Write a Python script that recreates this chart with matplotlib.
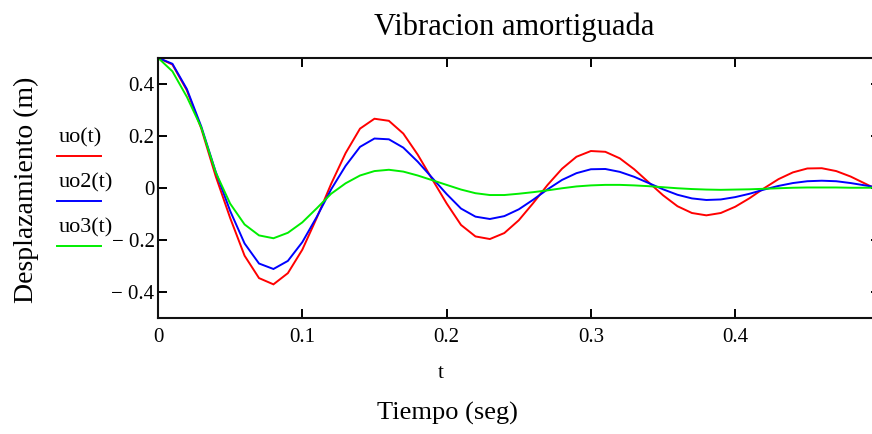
import numpy as np
import matplotlib
matplotlib.use("Agg")
import matplotlib.pyplot as plt
from matplotlib.lines import Line2D

# tiempo de muestreo (seg)
t = np.linspace(0, 0.5, 51)

# desplazamientos (m)
uo = [0.500, 0.474, 0.375, 0.228, 0.045, -0.115, -0.260, -0.346, -0.370, -0.327,
      -0.237, -0.115, 0.016, 0.134, 0.228, 0.266, 0.258, 0.209, 0.128, 0.034,
      -0.059, -0.142, -0.186, -0.196, -0.173, -0.124, -0.058, 0.012, 0.074, 0.120,
      0.142, 0.139, 0.114, 0.072, 0.022, -0.028, -0.070, -0.096, -0.105, -0.096,
      -0.072, -0.039, -0.001, 0.034, 0.060, 0.075, 0.076, 0.065, 0.044, 0.017,
      -0.010]
uo2 = [0.500, 0.477, 0.380, 0.236, 0.062, -0.088, -0.213, -0.290, -0.311, -0.280,
       -0.208, -0.111, -0.005, 0.085, 0.158, 0.190, 0.187, 0.155, 0.101, 0.039,
       -0.023, -0.079, -0.110, -0.119, -0.108, -0.082, -0.045, -0.005, 0.031, 0.057,
       0.072, 0.073, 0.062, 0.043, 0.019, -0.005, -0.026, -0.040, -0.046, -0.044,
       -0.035, -0.022, -0.006, 0.008, 0.019, 0.026, 0.028, 0.026, 0.019, 0.010,
       0.001]
uo3 = [0.500, 0.448, 0.350, 0.232, 0.060, -0.060, -0.140, -0.182, -0.193, -0.172,
       -0.132, -0.078, -0.022, 0.018, 0.048, 0.065, 0.070, 0.063, 0.048, 0.030,
       0.012, -0.006, -0.020, -0.027, -0.027, -0.022, -0.016, -0.009, -0.001, 0.006,
       0.010, 0.012, 0.012, 0.010, 0.007, 0.003, -0.001, -0.004, -0.006, -0.007,
       -0.006, -0.005, -0.003, -0.001, 0.001, 0.002, 0.002, 0.002, 0.001, 0.001,
       0.001]

names = ["uo(t)", "uo2(t)", "uo3(t)"]
colors = ["#ff0000", "#0000ff", "#00ee00"]

x_ticks = [0, 0.1, 0.2, 0.3, 0.4]
x_labels = ["0", "0.1", "0.2", "0.3", "0.4"]
y_ticks = [0.4, 0.2, 0, -0.2, -0.4]
y_labels = ["0.4", "0.2", "0", "\u2212 0.2", "\u2212 0.4"]

plt.rcParams["font.family"] = ["Liberation Serif", "DejaVu Serif"]

W, H = 872, 434
fig = plt.figure(figsize=(W / 100, H / 100), dpi=100)
ax = fig.add_axes([158 / W, (H - 318.2) / H, 721.5 / W, 260.4 / H])

for y, c in zip([uo, uo2, uo3], colors):
    ax.plot(t, y, color=c, lw=1.4, solid_joinstyle="miter")

ax.set_xlim(0, 0.5)
ax.set_ylim(-0.5, 0.5)
ax.set_xticks(x_ticks)
ax.set_xticklabels(x_labels)
ax.set_yticks(y_ticks)
ax.set_yticklabels(y_labels)
ax.tick_params(direction="in", top=True, right=True, length=6.5, width=1.4,
               labelsize=15, colors="black")
ax.tick_params(axis="x", pad=7)
ax.tick_params(axis="y", pad=2.5)
for s in ax.spines.values():
    s.set_linewidth(1.5)
    s.set_color("#111111")

fig.text(514 / W, 1 - 35 / H, "Vibracion amortiguada", ha="center",
         va="baseline", fontsize=22)
fig.text(441 / W, 1 - 378 / H, "t", ha="center", va="baseline", fontsize=15)
fig.text(447 / W, 1 - 420 / H, "Tiempo (seg)", ha="center", va="baseline",
         fontsize=19)
fig.text(33 / W, 1 - 190 / H, "Desplazamiento (m)", rotation=90,
         rotation_mode="anchor", ha="center", va="baseline", fontsize=20)

# leyenda a la izquierda: etiqueta encima de la muestra de linea
for i, (name, c) in enumerate(zip(names, colors)):
    ly = 155.5 + 45 * i
    fig.add_artist(Line2D([57 / W, 101 / W], [1 - ly / H] * 2, color=c, lw=1.4))
    fig.text(59 / W, 1 - (ly - 13.5) / H, name, ha="left", va="baseline",
             fontsize=16)

fig.savefig("out.png", dpi=100)
